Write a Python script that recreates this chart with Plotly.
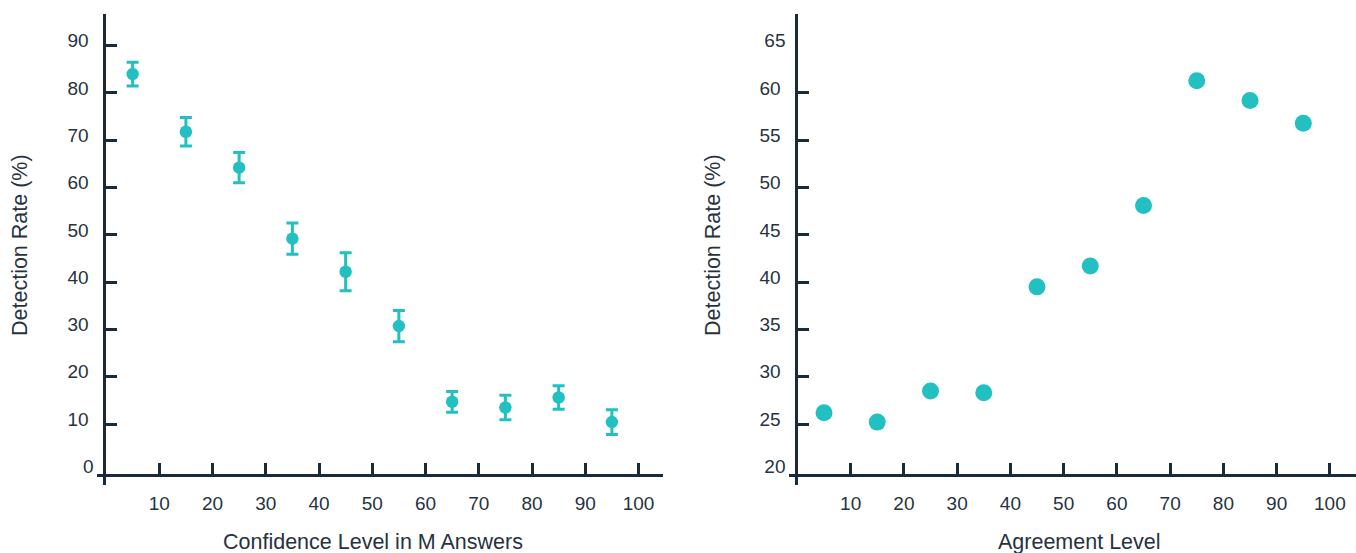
import plotly.graph_objects as go

W, H = 1356, 553

# ---- data ----
conf_levels = [5, 15, 25, 35, 45, 55, 65, 75, 85, 95]
conf_rate = [84.0, 71.8, 64.2, 49.2, 42.2, 30.7, 14.7, 13.5, 15.6, 10.4]
conf_err = [2.5, 3.0, 3.2, 3.3, 4.0, 3.3, 2.2, 2.6, 2.5, 2.6]

agree_levels = [5, 15, 25, 35, 45, 55, 65, 75, 85, 95]
agree_rate = [26.2, 25.2, 28.5, 28.3, 39.5, 41.7, 48.1, 61.3, 59.2, 56.8]

x_ticks = [10, 20, 30, 40, 50, 60, 70, 80, 90, 100]
left_y_ticks = [10, 20, 30, 40, 50, 60, 70, 80, 90]
left_y_label_only = [0]
right_y_ticks = [25, 30, 35, 40, 45, 50, 55, 60]
right_y_label_only = [20, 65]

TEAL = "#22c0c1"
NAVY = "#1b2a3b"
TEXT = "#27323f"
FONT = "Liberation Sans, Arial, sans-serif"

def px(x):
    return x / W

def py(y):
    return 1 - y / H

fig = go.Figure()

fig.add_trace(go.Scatter(
    x=conf_levels, y=conf_rate, mode="markers",
    marker=dict(color=TEAL, size=12.5),
    error_y=dict(type="data", array=conf_err, visible=True,
                 color=TEAL, thickness=3, width=6),
    xaxis="x", yaxis="y", showlegend=False, hoverinfo="x+y",
))

fig.add_trace(go.Scatter(
    x=agree_levels, y=agree_rate, mode="markers",
    marker=dict(color=TEAL, size=17),
    xaxis="x2", yaxis="y2", showlegend=False, hoverinfo="x+y",
))

# empty traces so the label-only overlay axes are drawn
fig.add_trace(go.Scatter(x=[], y=[], xaxis="x", yaxis="y3", showlegend=False,
                         hoverinfo="skip"))
fig.add_trace(go.Scatter(x=[], y=[], xaxis="x2", yaxis="y4", showlegend=False,
                         hoverinfo="skip"))

tickfont = dict(family=FONT, size=19, color=TEXT)
YSHIFT = -5
common_x = dict(
    showgrid=False, zeroline=False, showline=True, linecolor=NAVY, linewidth=3,
    ticks="inside", ticklen=11, tickwidth=3, tickcolor=NAVY,
    tickmode="array", tickvals=x_ticks, tickfont=tickfont,
    ticklabelstandoff=10, fixedrange=True, anchor="free",
)
common_y = dict(
    showgrid=False, zeroline=False, showline=True, linecolor=NAVY, linewidth=3,
    ticks="inside", ticklen=11, tickwidth=3, tickcolor=NAVY,
    tickmode="array", tickfont=tickfont,
    ticklabelstandoff=10, ticklabelshift=YSHIFT, fixedrange=True, anchor="free",
)
label_only_y = dict(
    showline=False, showgrid=False, zeroline=False, ticks="",
    tickmode="array", tickfont=tickfont, anchor="free",
    ticklabelstandoff=10, ticklabelshift=YSHIFT, fixedrange=True,
)

y_dom = [py(485), py(14)]
left_range = [(471.3 - 485) / 4.729, (471.3 - 14) / 4.729]
right_range = [20 + (471.3 - 485) / 9.458, 20 + (471.3 - 14) / 9.458]

fig.update_layout(
    width=W, height=H,
    margin=dict(l=0, r=0, t=0, b=0),
    paper_bgcolor="white", plot_bgcolor="rgba(0,0,0,0)",
    xaxis=dict(common_x, domain=[px(97), px(663)],
               range=[(97 - 106) / 5.325, (663 - 106) / 5.325],
               position=py(475)),
    yaxis=dict(common_y, domain=y_dom, tickvals=left_y_ticks,
               range=left_range, position=px(103.5)),
    xaxis2=dict(common_x, domain=[px(789), 1.0],
                range=[(789 - 797.4) / 5.325, (1356 - 797.4) / 5.325],
                position=py(475)),
    yaxis2=dict(common_y, domain=y_dom, tickvals=right_y_ticks,
                range=right_range, position=px(795.5)),
    yaxis3=dict(label_only_y, overlaying="y", domain=y_dom, position=px(103.5),
                range=left_range, tickvals=left_y_label_only),
    yaxis4=dict(label_only_y, overlaying="y2", domain=y_dom, position=px(795.5),
                range=right_range, tickvals=right_y_label_only),
)

title_font = dict(family=FONT, size=21.5, color=TEXT)
fig.add_annotation(text="Confidence Level in M Answers", xref="paper", yref="paper",
                   x=px(373), y=py(542), xanchor="center", yanchor="middle",
                   showarrow=False, font=title_font)
fig.add_annotation(text="Agreement Level", xref="paper", yref="paper",
                   x=px(1079), y=py(542), xanchor="center", yanchor="middle",
                   showarrow=False, font=title_font)
fig.add_annotation(text="Detection Rate (%)", xref="paper", yref="paper",
                   x=px(20), y=py(245), xanchor="center", yanchor="middle",
                   textangle=-90, showarrow=False, font=title_font)
fig.add_annotation(text="Detection Rate (%)", xref="paper", yref="paper",
                   x=px(713), y=py(245), xanchor="center", yanchor="middle",
                   textangle=-90, showarrow=False, font=title_font)

fig.write_html(
    "out.html",
    config={"displayModeBar": False},
    post_script="document.body.style.margin='0';document.body.style.overflow='hidden';",
)
